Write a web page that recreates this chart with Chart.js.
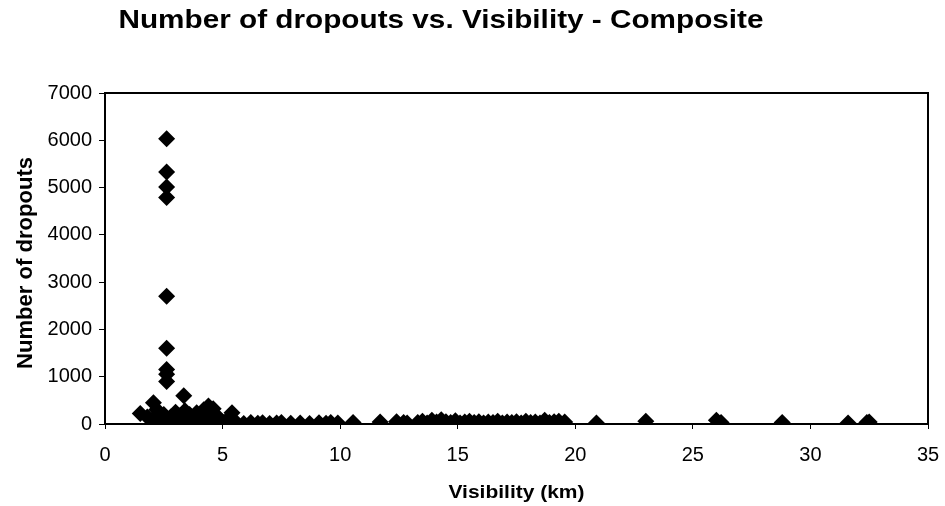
<!doctype html><html lang="en"><head>
<meta charset="UTF-8"><title>Number of dropouts vs. Visibility</title>
<script src="https://cdn.jsdelivr.net/npm/chart.js"></script>
<style>
 html,body{margin:0;padding:0;background:#fff}
 #wrap{width:945px;height:506px;position:relative}
</style></head><body>
<div id="wrap"><canvas id="chart" width="945" height="506"></canvas></div>
<script>
// ----- data -----
const chartTitle = 'Number of dropouts vs. Visibility - Composite';
const xTitle = 'Visibility (km)';
const yTitle = 'Number of dropouts';

// visibility (km)
const visibility = [
  1.5, 1.8, 2.0, 2.06, 2.2, 2.3, 2.4, 2.5,
  2.62, 2.62, 2.62, 2.62, 2.62, 2.62, 2.62, 2.62, 2.62,
  2.7, 2.8, 2.9, 3.0, 3.1, 3.2, 3.3, 3.35, 3.4, 3.5, 3.6, 3.7, 3.8, 3.9,
  4.0, 4.1, 4.2, 4.3, 4.4, 4.5, 4.6, 4.7, 4.8, 5.0, 5.2, 5.4, 5.5,
  5.6, 5.9, 6.2, 6.5, 6.7, 7.0, 7.3, 7.5, 7.9, 8.3, 8.7, 9.1, 9.4, 9.6, 9.9,
  10.55, 11.7, 12.4, 12.7, 12.85,
  13.3, 13.5, 13.7, 13.9, 14.1, 14.3, 14.5, 14.7, 14.9, 15.1, 15.3, 15.5, 15.7, 15.9, 16.1, 16.3,
  16.5, 16.7, 16.9, 17.1, 17.3, 17.5, 17.7, 17.9, 18.1, 18.3, 18.5, 18.7, 18.9, 19.1, 19.3, 19.55,
  20.9, 23.0, 26.0, 26.2, 28.8, 31.6, 32.4, 32.5
];
// number of dropouts
const dropouts = [
  220, 150, 80, 450, 300, 120, 40, 200,
  6030, 5330, 5010, 4790, 2700, 1600, 1150, 1050, 900,
  60, 150, 20, 250, 100, 180, 50, 600, 280, 130, 200, 30, 150, 240,
  90, 180, 300, 60, 380, 120, 320, 50, 150, 40, 90, 240, 30,
  20, 10, 30, 15, 25, 10, 20, 30, 15, 20, 10, 25, 15, 30, 20,
  30, 40, 50, 30, 20,
  30, 60, 20, 80, 40, 90, 50, 30, 70, 20, 40, 60, 30, 50, 20, 40,
  30, 60, 20, 40, 30, 50, 20, 60, 30, 40, 20, 80, 30, 50, 60, 40,
  20, 60, 80, 30, 30, 20, 30, 40
];

const xMin = 0, xMax = 35, xStep = 5;
const yMin = 0, yMax = 7000, yStep = 1000;

const points = visibility.map((v, i) => ({ x: v, y: dropouts[i] }));

const FONT = '"Liberation Sans", Arial, sans-serif';

// draw text stretched to a given width (the scan's lettering is wide)
function wideText(ctx, text, x, y, font, width, rot){
  ctx.save();
  ctx.font = font;
  ctx.fillStyle = '#000';
  ctx.textAlign = 'center'; ctx.textBaseline = 'alphabetic';
  ctx.translate(x, y);
  if (rot) ctx.rotate(rot);
  const w = ctx.measureText(text).width;
  ctx.scale(width / w, 1);
  ctx.fillText(text, 0, 0);
  ctx.restore();
}

// titles + plot frame
const frame = {
  id: 'frame',
  afterDatasetsDraw(chart){
    const {ctx, chartArea:a} = chart;
    ctx.save();
    ctx.strokeStyle = '#000'; ctx.lineWidth = 2;
    ctx.strokeRect(a.left, a.top, a.right - a.left, a.bottom - a.top);
    ctx.restore();
  },
  afterDraw(chart){
    const ctx = chart.ctx, a = chart.chartArea;
    wideText(ctx, chartTitle, 441, 28, 'bold 25px ' + FONT, 645);
    wideText(ctx, xTitle, (a.left + a.right) / 2, 498, 'bold 19px ' + FONT, 136);
    wideText(ctx, yTitle, 32, 263, 'bold 22px ' + FONT, 212, -Math.PI / 2);
  }
};

const tickFont = { family: FONT, size: 20 };

new Chart(document.getElementById('chart'), {
  type: 'scatter',
  data: { datasets: [{
    data: points,
    pointStyle: 'rectRot', radius: 8.5, hoverRadius: 8.5,
    backgroundColor: '#000', borderColor: '#000', borderWidth: 0
  }]},
  options: {
    responsive: false, animation: false,
    layout: { padding: { left: 0, top: 93, right: 17, bottom: 0 } },
    plugins: { legend: { display: false }, tooltip: { enabled: false } },
    scales: {
      x: {
        type: 'linear', min: xMin, max: xMax,
        afterFit: s => { s.height = 82; s.paddingLeft = 0; s.paddingRight = 0; },
        ticks: { stepSize: xStep, color: '#000', font: tickFont, padding: 14, maxRotation: 0 },
        grid: { drawOnChartArea: false, tickLength: 5, color: '#000' },
        border: { color: '#000', width: 2 }
      },
      y: {
        type: 'linear', min: yMin, max: yMax,
        afterFit: s => { s.width = 105; s.paddingTop = 0; s.paddingBottom = 0; },
        ticks: { stepSize: yStep, color: '#000', font: tickFont, padding: 7,
                 callback: v => String(v) },
        grid: { drawOnChartArea: false, tickLength: 6, color: '#000' },
        border: { color: '#000', width: 2 }
      }
    }
  },
  plugins: [frame]
});
</script>
</body></html>
